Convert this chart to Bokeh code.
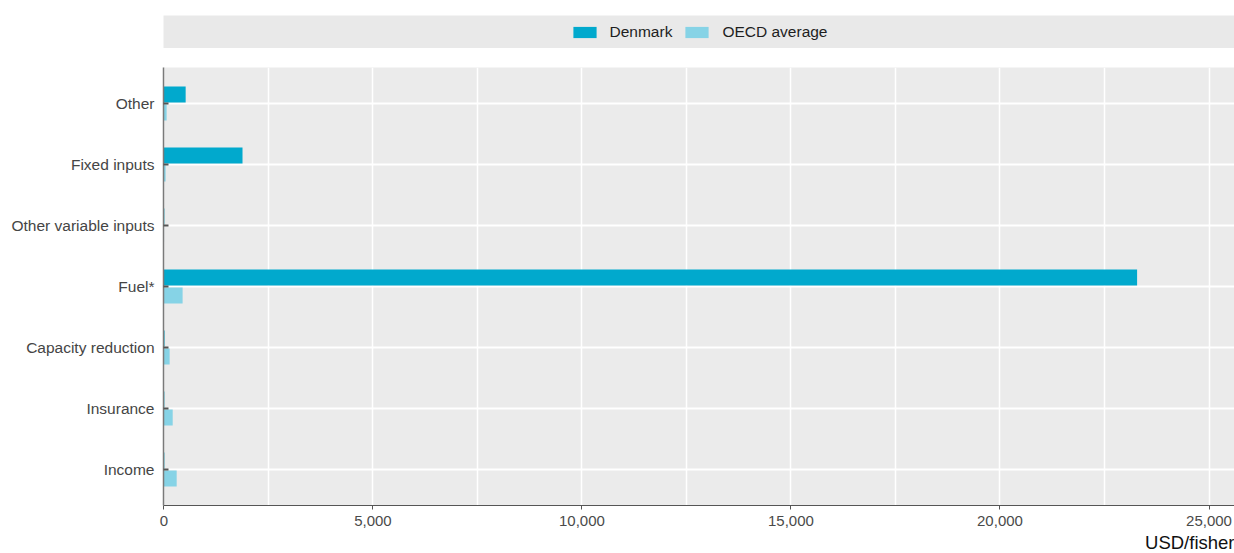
from bokeh.plotting import figure
from bokeh.models import (ColumnDataSource, Range1d, FixedTicker, Legend, LegendItem, Title)
from bokeh.layouts import column
from bokeh.transform import dodge
from bokeh.embed import file_html
from bokeh.resources import INLINE

# ---- data ----
categories = ["Income", "Insurance", "Capacity reduction", "Fuel*",
              "Other variable inputs", "Fixed inputs", "Other"]
denmark = [10, 10, 15, 23280, 10, 1880, 520]
oecd = [305, 210, 137, 447, 3, 40, 65]
series_names = ["Denmark", "OECD average"]
x_ticks = [0, 5000, 10000, 15000, 20000, 25000]
x_minor = [2500, 7500, 12500, 17500, 22500]
x_axis_label = "USD/fisher"

DK_COLOR = "#01a9cd"
OECD_COLOR = "#86d3e6"
BG = "#ebebeb"
FONT = "Liberation Sans"

src = ColumnDataSource(dict(y=list(range(len(categories))), cat=categories,
                            dk=denmark, oecd=oecd))

W = 1234
LEFT = 163
# ---- legend band ----
leg = figure(width=W, height=48, x_range=Range1d(0, 1), y_range=Range1d(0, 1),
             toolbar_location=None, output_backend="svg",
             min_border_left=LEFT, min_border_right=0, min_border_top=15,
             min_border_bottom=0)
leg.axis.visible = False
leg.grid.visible = False
leg.outline_line_color = None
leg.background_fill_color = "#e9e9e9"
dsrc = ColumnDataSource(dict(x=[-5], y=[-5]))
r1 = leg.rect(x="x", y="y", width=0.1, height=0.1, source=dsrc,
              fill_color=DK_COLOR, line_color=None)
r2 = leg.rect(x="x", y="y", width=0.1, height=0.1, source=dsrc,
              fill_color=OECD_COLOR, line_color=None)
legend = Legend(items=[LegendItem(label=series_names[0], renderers=[r1]),
                       LegendItem(label=series_names[1], renderers=[r2])],
                orientation="horizontal", location="center",
                background_fill_alpha=0, border_line_alpha=0,
                glyph_width=29, glyph_height=14, label_standoff=11,
                spacing=10, padding=0, margin=0,
                label_text_font=FONT, label_text_font_size="15.5px",
                label_text_color="#1e1e1e")
leg.add_layout(legend, "center")

# ---- main chart ----
p = figure(width=W, height=505, toolbar_location=None, output_backend="svg",
           x_range=Range1d(-10, 25610), y_range=Range1d(-0.59, 6.59),
           min_border_left=LEFT, min_border_right=0, min_border_top=19,
           min_border_bottom=48)
p.background_fill_color = BG
p.outline_line_color = None

p.hbar(y=dodge("y", 0.148, range=p.y_range), right="dk", left=0, height=0.265,
       source=src, fill_color=DK_COLOR, line_color=None)
p.hbar(y=dodge("y", -0.148, range=p.y_range), right="oecd", left=0, height=0.265,
       source=src, fill_color=OECD_COLOR, line_color=None)

# y axis
p.yaxis.ticker = FixedTicker(ticks=list(range(len(categories))))
p.yaxis.major_label_overrides = {i: c for i, c in enumerate(categories)}
p.yaxis.major_label_text_font = FONT
p.yaxis.major_label_text_font_size = "15.5px"
p.yaxis.major_label_text_color = "#454545"
p.yaxis.major_label_standoff = 9
p.yaxis.axis_line_color = "#7a7a7a"
p.yaxis.axis_line_width = 1.5
p.yaxis.major_tick_in = 5
p.yaxis.major_tick_out = 0
p.yaxis.major_tick_line_color = "#555555"
p.yaxis.major_tick_line_width = 2
p.yaxis.minor_tick_line_color = None

# x axis
p.xaxis.ticker = FixedTicker(ticks=x_ticks, minor_ticks=x_minor)
p.xaxis.major_label_overrides = {t: f"{t:,}" for t in x_ticks}
p.xaxis.major_label_text_font = FONT
p.xaxis.major_label_text_font_size = "15px"
p.xaxis.major_label_text_color = "#4a4a4a"
p.xaxis.major_label_standoff = 6
p.xaxis.axis_line_color = "#555555"
p.xaxis.axis_line_width = 1.2
p.xaxis.major_tick_out = 4
p.xaxis.major_tick_in = 0
p.xaxis.major_tick_line_color = "#555555"
p.xaxis.minor_tick_line_color = None

# axis title, right-aligned under the axis
p.add_layout(Title(text=x_axis_label, align="right", text_font=FONT,
                   text_font_style="normal", text_font_size="18.5px",
                   text_color="#111111", offset=0, standoff=2), "below")

# grids
p.xgrid.grid_line_color = "white"
p.xgrid.grid_line_width = 1.5
p.xgrid.minor_grid_line_color = "white"
p.xgrid.minor_grid_line_width = 1.5
p.ygrid.grid_line_color = "white"
p.ygrid.grid_line_width = 2

layout = column(leg, p, spacing=0)
open("out.html", "w").write(file_html(layout, INLINE))
